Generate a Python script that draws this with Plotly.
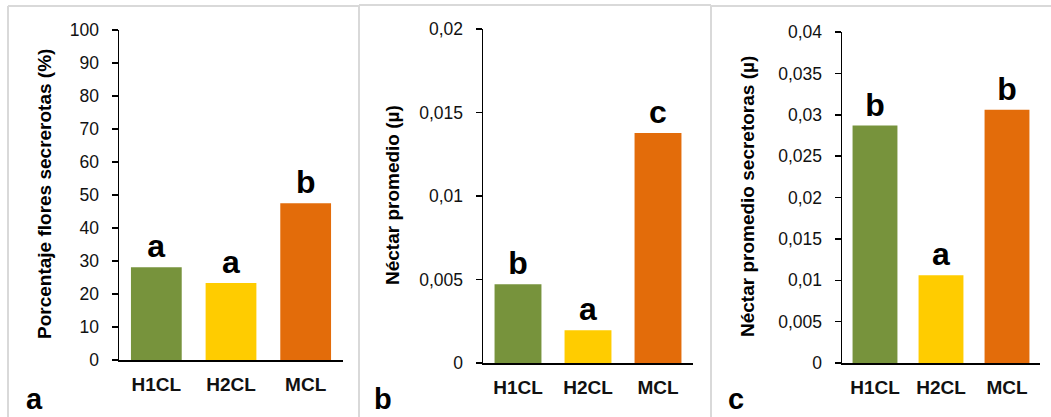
import plotly.graph_objects as go

W, H = 1051, 417

categories = ["H1CL", "H2CL", "MCL"]
colors = ["#77933c", "#ffcc00", "#e36c0a"]

pct_values = [28.1, 23.3, 47.5]
pct_letters = ["a", "a", "b"]
pct_ticks = [0, 10, 20, 30, 40, 50, 60, 70, 80, 90, 100]
pct_ticktext = ["0", "10", "20", "30", "40", "50", "60", "70", "80", "90", "100"]

nect_values = [0.00472, 0.00196, 0.01377]
nect_letters = ["b", "a", "c"]
nect_ticks = [0, 0.005, 0.01, 0.015, 0.02]
nect_ticktext = ["0", "0,005", "0,01", "0,015", "0,02"]

sec_values = [0.0287, 0.0106, 0.0306]
sec_letters = ["b", "a", "b"]
sec_ticks = [0, 0.005, 0.01, 0.015, 0.02, 0.025, 0.03, 0.035, 0.04]
sec_ticktext = ["0", "0,005", "0,01", "0,015", "0,02", "0,025", "0,03", "0,035", "0,04"]

titles = ["Porcentaje flores secrerotas (%)", "Néctar promedio (µ)", "Néctar promedio secretoras (µ)"]
panel_labels = ["a", "b", "c"]

FONT = "Liberation Sans, Arial, sans-serif"

def px(x):
    return x / W

def py(y):
    return 1 - y / H

# plot-area pixel boxes: (left, right, top, bottom)
boxes = [(119, 343, 30, 360), (483, 693, 29, 363), (842, 1040, 32, 363)]
ranges = [[0, 100], [0, 0.02], [0, 0.04]]
tickv = [pct_ticks, nect_ticks, sec_ticks]
tickt = [pct_ticktext, nect_ticktext, sec_ticktext]
values = [pct_values, nect_values, sec_values]
letters = [pct_letters, nect_letters, sec_letters]
widths = [0.68, 0.67, 0.68]

fig = go.Figure()
layout = dict(
    template="none",
    width=W, height=H, margin=dict(l=0, r=0, t=0, b=0, pad=0, autoexpand=False),
    paper_bgcolor="white", plot_bgcolor="white", showlegend=False,
    font=dict(family=FONT, color="#111111"),
)

for i in range(3):
    sfx = "" if i == 0 else str(i + 1)
    fig.add_trace(go.Bar(
        x=categories, y=values[i], marker=dict(color=colors, line=dict(width=0)),
        width=widths[i], text=letters[i], textposition="outside",
        textfont=dict(family=FONT, size=32, color="#000000", weight="bold"),
        constraintext="none", cliponaxis=False,
        xaxis="x" + sfx, yaxis="y" + sfx, hoverinfo="skip",
    ))
    l, r, t, b = boxes[i]
    layout["xaxis" + sfx] = dict(
        domain=[px(l), px(r)], anchor="y" + sfx, range=[-0.5, 2.5],
        showline=True, linecolor="#000000", linewidth=1.5, ticks="",
        showgrid=False, zeroline=False, ticklabelstandoff=7, automargin=False,
        tickfont=dict(family=FONT, size=19, color="#111111", weight="bold"),
        fixedrange=True,
    )
    layout["yaxis" + sfx] = dict(
        domain=[py(b), py(t)], anchor="x" + sfx, range=ranges[i],
        tickvals=tickv[i], ticktext=tickt[i],
        showline=True, linecolor="#000000", linewidth=1.5,
        ticks="outside", ticklen=6, tickcolor="#000000", tickwidth=1.5,
        showgrid=False, zeroline=False, ticklabelstandoff=9, automargin=False,
        tickfont=dict(family=FONT, size=17.5, color="#111111"),
        fixedrange=True,
    )

annotations = []
title_x = [44, 392, 748]
title_y = [194, 195, 197]
for i in range(3):
    annotations.append(dict(
        text=titles[i], textangle=-90, x=px(title_x[i]), y=py(title_y[i]),
        xref="paper", yref="paper", showarrow=False, xanchor="center", yanchor="middle",
        font=dict(family=FONT, size=19, color="#000000", weight="bold"),
    ))
label_x = [34, 383, 736]
for i in range(3):
    annotations.append(dict(
        text=panel_labels[i], x=px(label_x[i]), y=py(416),
        xref="paper", yref="paper", showarrow=False, xanchor="center", yanchor="bottom",
        borderpad=0,
        font=dict(family=FONT, size=29, color="#000000", weight="bold"),
    ))
layout["annotations"] = annotations

# panel frames
border = dict(color="#d9d9d9", width=2)
shapes = []
frames = [(8, 359, 6), (359, 711, 5), (711, 1060, 6)]
for (x0, x1, y0) in frames:
    shapes.append(dict(type="line", xref="paper", yref="paper", x0=px(x0), x1=px(x1), y0=py(y0), y1=py(y0), line=border))
    shapes.append(dict(type="line", xref="paper", yref="paper", x0=px(x0), x1=px(x0), y0=py(y0), y1=py(420), line=border))
layout["shapes"] = shapes

fig.update_layout(**layout)

reset_css = (
    "var s=document.createElement('style');"
    "s.textContent='html,body{margin:0!important;padding:0!important;overflow:hidden!important;"
    "width:1051px;height:417px;}body>div{line-height:0;font-size:0;height:417px;}';"
    "document.head.appendChild(s);"
)
fig.write_html(
    "out.html",
    config={"displayModeBar": False, "staticPlot": True},
    post_script=reset_css,
)
